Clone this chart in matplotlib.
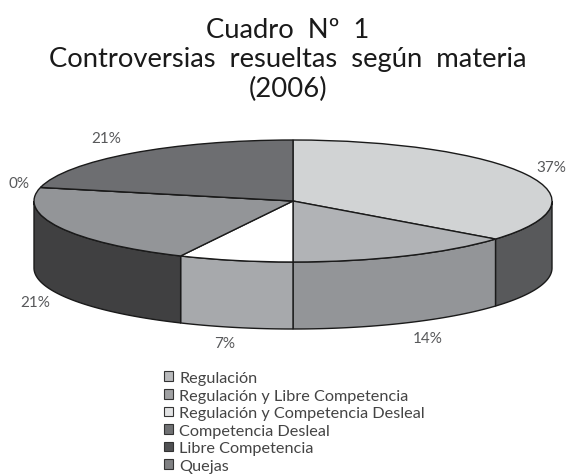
import numpy as np
import matplotlib
matplotlib.use('Agg')
import matplotlib.pyplot as plt
from matplotlib.patches import Patch

plt.rcParams['font.family'] = ['Lato', 'DejaVu Sans']

materias = ['Regulación', 'Regulación y Libre Competencia', 'Regulación y Competencia Desleal',
            'Competencia Desleal', 'Libre Competencia', 'Quejas']
pesos = [5, 2, 1, 3, 0, 3]
etiquetas = ['37%', '14%', '7%', '21%', '0%', '21%']
color_cara = ['#d1d3d4', '#b1b3b6', '#ffffff', '#939598', '#808285', '#6d6e71']
color_lado = ['#58595b', '#939598', '#a7a9ac', '#404041', '#404041', '#404041']
color_leyenda = ['#b9babc', '#a0a1a3', '#e2e3e4', '#707173', '#505153', '#808183']
pos_etiquetas = [(551, 168), (428, 339), (225, 344), (35, 303), (19, 184), (106, 139)]

W, H = 566, 477
cx, cy, rx, ry, alto = 293, 202, 259, 61, 67


def px(x, y):
    return (x - cx) / rx, (cy - y) / ry


fig = plt.figure(figsize=(W / 100, H / 100), dpi=100)
ax = fig.add_axes([0, 0, 1, 1])

# cara superior: circulo de radio 1 que se aplasta con los limites de los ejes
ax.pie(pesos, colors=color_cara, startangle=90, counterclock=False, radius=1,
       wedgeprops={'edgecolor': '#1a1a1a', 'linewidth': 1.0, 'zorder': 3})
ax.set_aspect('auto')
ax.set_xlim(px(0, 0)[0], px(W, 0)[0])
ax.set_ylim(px(0, H)[1], px(0, 0)[1])
ax.axis('off')

# lados del cilindro, solo la mitad de delante
bordes = np.cumsum([0] + pesos) / sum(pesos) * 360
d = alto / ry
for i in range(len(pesos)):
    a0, a1 = max(bordes[i], 90), min(bordes[i + 1], 270)
    if a1 <= a0:
        continue
    t = np.radians(np.linspace(a0, a1, 80))
    xs = np.sin(t)
    ys = np.cos(t)
    ax.fill(np.r_[xs, xs[::-1]], np.r_[ys, ys[::-1] - d], facecolor=color_lado[i],
            edgecolor='#1a1a1a', linewidth=1.0, zorder=2)

for (x, y), txt in zip(pos_etiquetas, etiquetas):
    xd, yd = px(x, y)
    ax.text(xd, yd, txt, ha='center', va='center', fontsize=11, color='#58595b')

fig.text(288 / W, 1 - 60 / H, 'Cuadro  Nº  1\nControversias  resueltas  según  materia\n(2006)',
         ha='center', va='center', fontsize=19.7, color='#1a1a1a', linespacing=1.22)

handles = [Patch(facecolor=c, edgecolor='#333333', linewidth=0.8) for c in color_leyenda]
fig.legend(handles, materias, loc='upper left', bbox_to_anchor=(164 / W, 1 - 372 / H), frameon=False,
           fontsize=11.7, labelcolor='#444444', handlelength=0.55, handleheight=0.55, handletextpad=0.4,
           labelspacing=0.22, borderpad=0, borderaxespad=0)

fig.savefig('out.png', dpi=100)
